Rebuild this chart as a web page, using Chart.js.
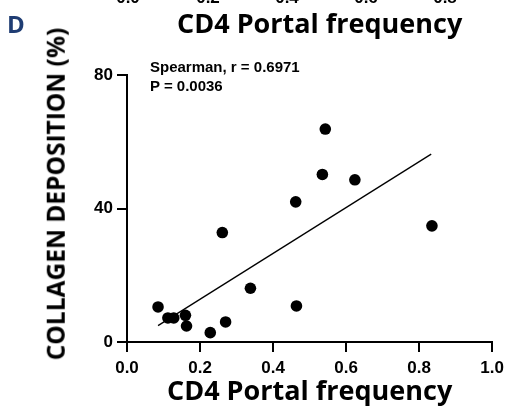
<!DOCTYPE html>
<html>
<head>
<meta charset="utf-8">
<script src="https://cdn.jsdelivr.net/npm/chart.js@4"></script>
<style>
  html, body { margin: 0; padding: 0; background: #fff; }
  #wrap { position: relative; width: 512px; height: 406px; overflow: hidden; }
  #chart { position: absolute; left: 0; top: 0; }
  .lbl { position: absolute; white-space: nowrap; color: #000; }
  .cut { font: bold 17px "Liberation Sans", Arial, sans-serif; top: -12px; transform: translateX(-50%); }
  .big { font: bold 27px "Open Sans", sans-serif; }
  .note { font: bold 15px "Liberation Sans", Arial, sans-serif; line-height: 19px; }
  .ytitle { font: bold 24.5px/1 "Open Sans", sans-serif; left: 56px; top: 194px;
            transform: translate(-50%, -50%) rotate(-90deg); }
</style>
</head>
<body>
<div id="wrap">
  <canvas id="chart" width="512" height="406"></canvas>
  <!-- cut-off bits of the panel above -->
  <div class="lbl cut" style="left:128px">0.0</div>
  <div class="lbl cut" style="left:208px">0.2</div>
  <div class="lbl cut" style="left:287px">0.4</div>
  <div class="lbl cut" style="left:366px">0.6</div>
  <div class="lbl cut" style="left:445px">0.8</div>
  <div class="lbl big" style="left:177px;top:4px">CD4 Portal frequency</div>
  <div class="lbl" style="left:7px;top:7px;font:bold 24px 'Open Sans',sans-serif;color:#1f3d73">D</div>
  <div class="lbl note" style="left:150px;top:57px">Spearman, r = 0.6971<br>P = 0.0036</div>
  <div class="lbl ytitle">COLLAGEN DEPOSITION (%)</div>
</div>

<script>
/* ── Data ── */
const cd4Freq   = [0.085, 0.112, 0.128, 0.160, 0.163, 0.228, 0.261, 0.270, 0.338, 0.462, 0.464, 0.535, 0.543, 0.624, 0.835];
const collagen  = [10.5,  7.2,   7.2,   8.0,   4.8,   2.8,   32.8,  6.0,   16.1,  42.0,  10.8,  50.2,  63.8,  48.6,  34.8];
const fitX      = [0.085, 0.833];
const fitY      = [4.9, 56.3];
const xTicks    = [0, 0.2, 0.4, 0.6, 0.8, 1.0];
const yTicks    = [0, 40, 80];

const tickFont  = { family: 'Liberation Sans', weight: 'bold', size: 17, lineHeight: 1 };
const titleFont = { family: 'Open Sans', weight: 'bold', size: 27, lineHeight: 1 };

new Chart(document.getElementById('chart'), {
  type: 'scatter',
  data: {
    datasets: [
      {
        data: cd4Freq.map((x, i) => ({ x, y: collagen[i] })),
        backgroundColor: '#000', borderWidth: 0,
        pointRadius: 5.8, pointHoverRadius: 5.8,
      },
      {
        type: 'line',
        data: fitX.map((x, i) => ({ x, y: fitY[i] })),
        borderColor: '#000', borderWidth: 1.3,
        pointRadius: 0, fill: false,
      },
    ],
  },
  options: {
    responsive: false, animation: false,
    layout: { padding: { left: 43, right: 16, top: 75, bottom: 0 } },
    plugins: { legend: { display: false }, tooltip: { enabled: false } },
    scales: {
      x: {
        type: 'linear', min: 0, max: 1,
        afterBuildTicks: s => { s.ticks = xTicks.map(v => ({ value: v })); },
        afterFit: s => { s.height = 64; },
        grid: { drawOnChartArea: false, drawTicks: true, tickLength: 10, color: '#000', lineWidth: 2 },
        border: { color: '#000', width: 2 },
        ticks: { color: '#000', font: tickFont, padding: 8, maxRotation: 0, callback: v => v.toFixed(1) },
        title: { display: true, text: 'CD4 Portal frequency', color: '#000', font: titleFont, padding: { top: 0, bottom: 0 } },
      },
      y: {
        type: 'linear', min: 0, max: 80,
        afterBuildTicks: s => { s.ticks = yTicks.map(v => ({ value: v })); },
        afterFit: s => { s.width = 84; },
        grid: { drawOnChartArea: false, drawTicks: true, tickLength: 10, color: '#000', lineWidth: 2 },
        border: { color: '#000', width: 2 },
        ticks: { color: '#000', font: tickFont, padding: 4 },
      },
    },
  },
});
</script>
</body>
</html>
